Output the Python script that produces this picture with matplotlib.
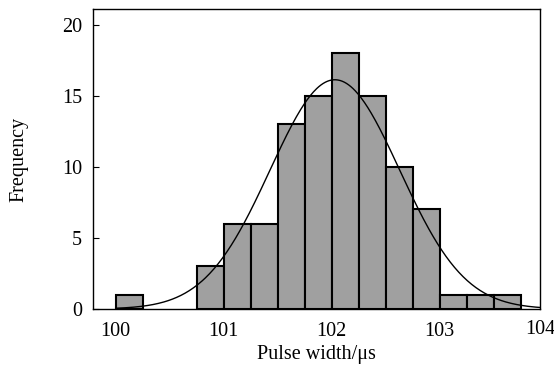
import numpy as np
import matplotlib.pyplot as plt

plt.rcParams["font.family"] = ["Liberation Serif", "DejaVu Serif"]

# histogram bins (left edge, width 0.25 us) and counts
bin_left = [100.0, 100.75, 101.0, 101.25, 101.5, 101.75, 102.0, 102.25,
            102.5, 102.75, 103.0, 103.25, 103.5]
counts = [1, 3, 6, 6, 13, 15, 18, 15, 10, 7, 1, 1, 1]
bin_width = 0.25

# fitted normal curve
mu, sigma = 102.03, 0.60

x_ticks = [100, 101, 102, 103, 104]
y_ticks = [0, 5, 10, 15, 20]
fs = 14.5

fig = plt.figure(figsize=(5.54, 3.67), dpi=100)
ax = fig.add_axes([93 / 554, 58 / 367, 447 / 554, 300 / 367])

ax.bar(bin_left, counts, width=bin_width, align="edge",
       color="#a0a0a0", edgecolor="black", linewidth=1.5, zorder=2)

n_total = sum(counts)
xs = np.linspace(100.0, 103.95, 400)
ys = n_total * bin_width / (sigma * np.sqrt(2 * np.pi)) * np.exp(-(xs - mu) ** 2 / (2 * sigma ** 2))
ax.plot(xs, ys, color="black", linewidth=1.0, zorder=3)

ax.set_xlim(99.79, 103.93)
ax.set_ylim(0, 21.1)
ax.set_xticks(x_ticks[:-1])
ax.set_xticklabels([str(t) for t in x_ticks[:-1]])
# the last label sits at the right frame edge
ax.text(1.0, -0.035, str(x_ticks[-1]), transform=ax.transAxes,
        ha="center", va="top", fontsize=fs, clip_on=False)
ax.set_yticks(y_ticks)

ax.tick_params(axis="x", length=0, pad=9, labelsize=fs)
ax.tick_params(axis="y", direction="in", length=4, width=0.8, pad=8, labelsize=fs)

for s in ax.spines.values():
    s.set_linewidth(1.0)

ax.set_xlabel("Pulse width/\u03bcs", fontsize=fs, labelpad=3)
ax.set_ylabel("Frequency", fontsize=fs, labelpad=24)

fig.savefig("out.png", dpi=100)
